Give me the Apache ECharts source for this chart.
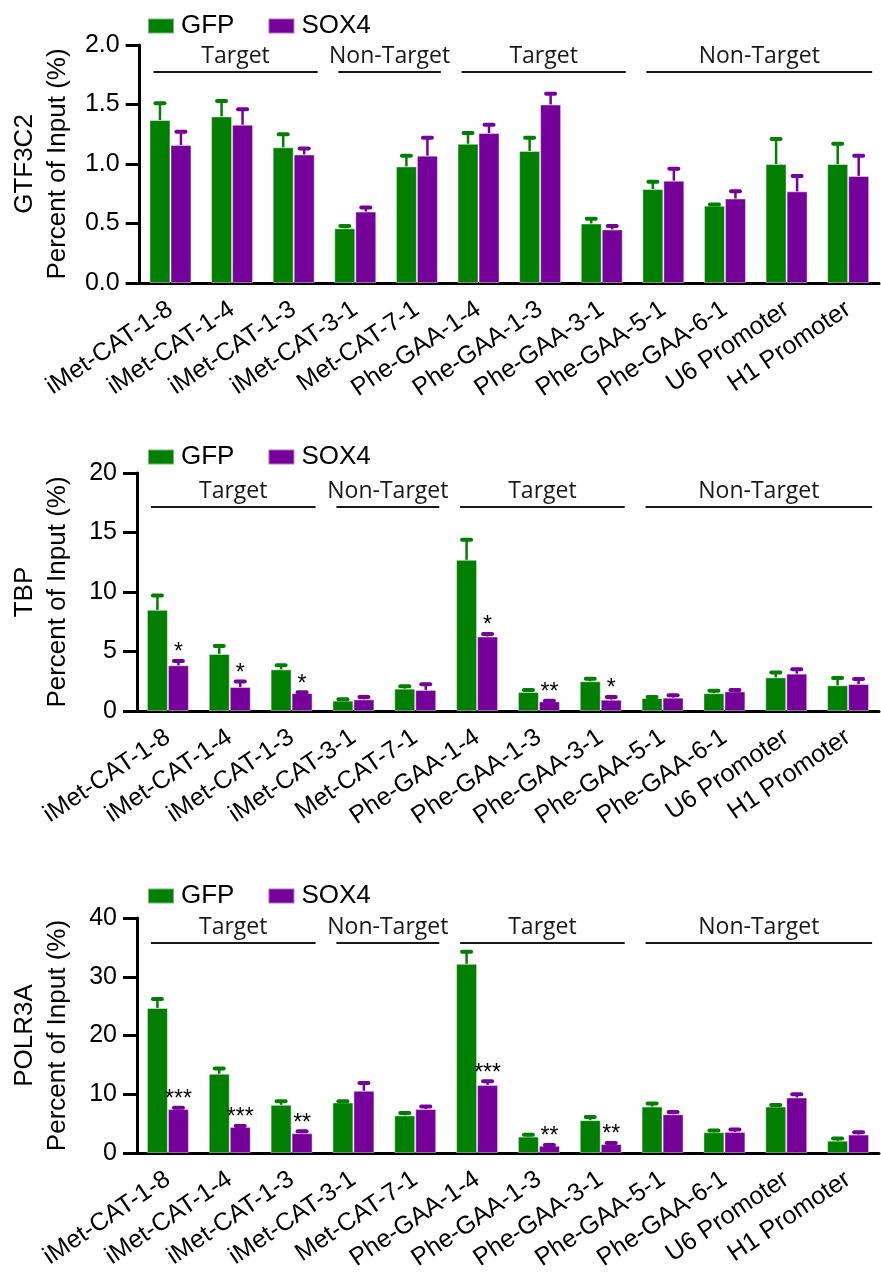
<!DOCTYPE html>
<html>
<head>
<meta charset="utf-8">
<script src="https://cdn.jsdelivr.net/npm/echarts@6/dist/echarts.min.js"></script>
<style>
html, body { margin: 0; padding: 0; background: #fff; }
#chart { width: 881px; height: 1273px; }
</style>
</head>
<body>
<div id="chart"></div>
<script>
const categories = ['iMet-CAT-1-8', 'iMet-CAT-1-4', 'iMet-CAT-1-3', 'iMet-CAT-3-1', 'Met-CAT-7-1',
    'Phe-GAA-1-4', 'Phe-GAA-1-3', 'Phe-GAA-3-1', 'Phe-GAA-5-1', 'Phe-GAA-6-1', 'U6 Promoter', 'H1 Promoter'];
const groupLabels = ['Target', 'Non-Target', 'Target', 'Non-Target'];
const groupFirst = [0, 3, 5, 8];
const groupLast = [2, 4, 7, 11];

// GTF3C2
const gtf3c2Gfp = [1.37, 1.40, 1.14, 0.46, 0.98, 1.17, 1.11, 0.50, 0.79, 0.65, 1.00, 1.00];
const gtf3c2GfpErr = [0.14, 0.13, 0.11, 0.02, 0.09, 0.09, 0.11, 0.04, 0.06, 0.01, 0.21, 0.17];
const gtf3c2Sox4 = [1.16, 1.33, 1.08, 0.60, 1.07, 1.26, 1.50, 0.45, 0.86, 0.71, 0.77, 0.90];
const gtf3c2Sox4Err = [0.11, 0.13, 0.05, 0.035, 0.15, 0.07, 0.09, 0.03, 0.10, 0.06, 0.13, 0.17];
const gtf3c2Stars = ['', '', '', '', '', '', '', '', '', '', '', ''];

// TBP
const tbpGfp = [8.5, 4.8, 3.5, 0.87, 1.88, 12.7, 1.6, 2.5, 1.09, 1.5, 2.83, 2.16];
const tbpGfpErr = [1.2, 0.67, 0.34, 0.11, 0.2, 1.7, 0.17, 0.22, 0.09, 0.21, 0.4, 0.62];
const tbpSox4 = [3.84, 2.02, 1.51, 0.98, 1.77, 6.26, 0.81, 0.95, 1.12, 1.65, 3.14, 2.27];
const tbpSox4Err = [0.36, 0.45, 0.06, 0.2, 0.47, 0.22, 0.06, 0.23, 0.2, 0.12, 0.37, 0.42];
const tbpStars = ['*', '*', '*', '', '', '*', '**', '*', '', '', '', ''];

// POLR3A
const polr3aGfp = [24.7, 13.5, 8.2, 8.6, 6.4, 32.2, 2.8, 5.6, 7.9, 3.55, 7.9, 2.1];
const polr3aGfpErr = [1.5, 0.9, 0.6, 0.2, 0.4, 2.05, 0.3, 0.54, 0.55, 0.28, 0.27, 0.38];
const polr3aSox4 = [7.5, 4.45, 3.38, 10.6, 7.5, 11.6, 1.24, 1.52, 6.6, 3.6, 9.46, 3.15];
const polr3aSox4Err = [0.2, 0.15, 0.32, 1.3, 0.4, 0.6, 0.11, 0.17, 0.4, 0.4, 0.54, 0.4];
const polr3aStars = ['***', '***', '**', '', '', '***', '**', '**', '', '', '', ''];

const yTitles = ['GTF3C2', 'TBP', 'POLR3A'];
const yMax = [2, 20, 40];
const yStep = [0.5, 5, 10];
const yDecimals = [1, 0, 0];

const GREEN = '#007f00';
const PURPLE = '#75009a';
const INK = '#1a1718';
const BAR_W = 21;

const panels = [
    { gfp: gtf3c2Gfp, gfpErr: gtf3c2GfpErr, sox4: gtf3c2Sox4, sox4Err: gtf3c2Sox4Err, stars: gtf3c2Stars,
      top: 45, legendTop: 8, lineOffset: 27 },
    { gfp: tbpGfp, gfpErr: tbpGfpErr, sox4: tbpSox4, sox4Err: tbpSox4Err, stars: tbpStars,
      top: 473, legendTop: 439, lineOffset: 34 },
    { gfp: polr3aGfp, gfpErr: polr3aGfpErr, sox4: polr3aSox4, sox4Err: polr3aSox4Err, stars: polr3aStars,
      top: 918, legendTop: 878, lineOffset: 25 }
];

function errorBarItem(offset, stars) {
    return function (params, api) {
        const idx = api.value(0);
        const mean = api.value(1);
        const err = api.value(2);
        const base = api.coord([idx, mean]);
        const top = api.coord([idx, mean + err]);
        const x = base[0] + offset;
        const color = api.visual('color');
        const children = [
            { type: 'line', shape: { x1: x, y1: base[1], x2: x, y2: top[1] },
              style: { stroke: color, lineWidth: 2.5 } },
            { type: 'rect', shape: { x: x - 6.5, y: top[1] - 2, width: 13, height: 4, r: 2 },
              style: { fill: color } }
        ];
        const star = stars ? stars[params.dataIndex] : '';
        if (star) {
            children.push({
                type: 'text', x: x, y: top[1] - 8,
                style: { text: star, fill: '#000', fontSize: 23, fontFamily: 'Liberation Sans',
                    align: 'center', verticalAlign: 'middle' }
            });
        }
        return { type: 'group', children: children };
    };
}

function groupItem(lineOffset) {
    return function (params, api) {
        const x1 = api.coord([api.value(0), 0])[0] - 17;
        const x2 = api.coord([api.value(1), 0])[0] + 24;
        const y = params.coordSys.y + lineOffset;
        return {
            type: 'group',
            children: [
                { type: 'line', shape: { x1: x1, y1: y, x2: x2, y2: y },
                  style: { stroke: INK, lineWidth: 1.8 } },
                { type: 'text', x: (x1 + x2) / 2, y: y - 4,
                  style: { text: groupLabels[params.dataIndex], fill: INK, fontSize: 23,
                      fontFamily: 'Open Sans', align: 'center', verticalAlign: 'bottom' } }
            ]
        };
    };
}

const grid = [], xAxis = [], yAxis = [], legend = [], series = [];

panels.forEach((p, i) => {
    grid.push({ left: 136, right: 2, top: p.top, height: 238 });
    legend.push({
        data: ['GFP', 'SOX4'], left: 142, top: p.legendTop, icon: 'rect',
        itemWidth: 26, itemHeight: 15, itemGap: 33,
        textStyle: { fontSize: 26, color: '#000', fontFamily: 'Liberation Sans', padding: [0, 0, 0, 2] }
    });
    xAxis.push({
        gridIndex: i, type: 'category', data: categories,
        axisLine: { lineStyle: { color: '#000', width: 3 } },
        axisTick: { alignWithLabel: true, length: 8, lineStyle: { color: '#000', width: 3 } },
        axisLabel: { interval: 0, rotate: 34, fontSize: 25, color: '#000', margin: 24,
            fontFamily: 'Liberation Sans' }
    });
    yAxis.push({
        gridIndex: i, type: 'value', min: 0, max: yMax[i], interval: yStep[i],
        name: yTitles[i] + '\nPercent of Input (%)',
        nameLocation: 'middle', nameRotate: 90, nameGap: 63,
        nameTextStyle: { fontSize: 26, lineHeight: 33, color: '#000', fontFamily: 'Liberation Sans' },
        axisLine: { show: true, lineStyle: { color: '#000', width: 3 } },
        axisTick: { show: true, length: 14, lineStyle: { color: '#000', width: 3 } },
        splitLine: { show: false },
        axisLabel: { color: '#000', fontSize: 25, margin: 20, fontFamily: 'Liberation Sans',
            formatter: v => v.toFixed(yDecimals[i]) }
    });
    series.push({
        name: 'GFP', type: 'bar', xAxisIndex: i, yAxisIndex: i, data: p.gfp,
        barWidth: BAR_W, barGap: '0%',
        itemStyle: { color: GREEN, borderColor: 'rgba(255,255,255,0.45)', borderWidth: 1 }
    });
    series.push({
        name: 'SOX4', type: 'bar', xAxisIndex: i, yAxisIndex: i, data: p.sox4,
        barWidth: BAR_W, barGap: '0%',
        itemStyle: { color: PURPLE, borderColor: 'rgba(255,255,255,0.45)', borderWidth: 1 }
    });
    series.push({
        name: 'GFP err', type: 'custom', xAxisIndex: i, yAxisIndex: i,
        itemStyle: { color: GREEN }, z: 3,
        renderItem: errorBarItem(-BAR_W / 2, null),
        encode: { x: 0, y: 1 },
        data: p.gfp.map((v, k) => [k, v, p.gfpErr[k]])
    });
    series.push({
        name: 'SOX4 err', type: 'custom', xAxisIndex: i, yAxisIndex: i,
        itemStyle: { color: PURPLE }, z: 3,
        renderItem: errorBarItem(BAR_W / 2, p.stars),
        encode: { x: 0, y: 1 },
        data: p.sox4.map((v, k) => [k, v, p.sox4Err[k]])
    });
    series.push({
        name: 'groups', type: 'custom', xAxisIndex: i, yAxisIndex: i, z: 4,
        renderItem: groupItem(p.lineOffset),
        encode: { x: [0, 1] },
        data: groupFirst.map((f, k) => [f, groupLast[k]])
    });
});

const chart = echarts.init(document.getElementById('chart'));
chart.setOption({
    animation: false,
    backgroundColor: '#fff',
    grid: grid,
    legend: legend,
    xAxis: xAxis,
    yAxis: yAxis,
    series: series
});
</script>
</body>
</html>
